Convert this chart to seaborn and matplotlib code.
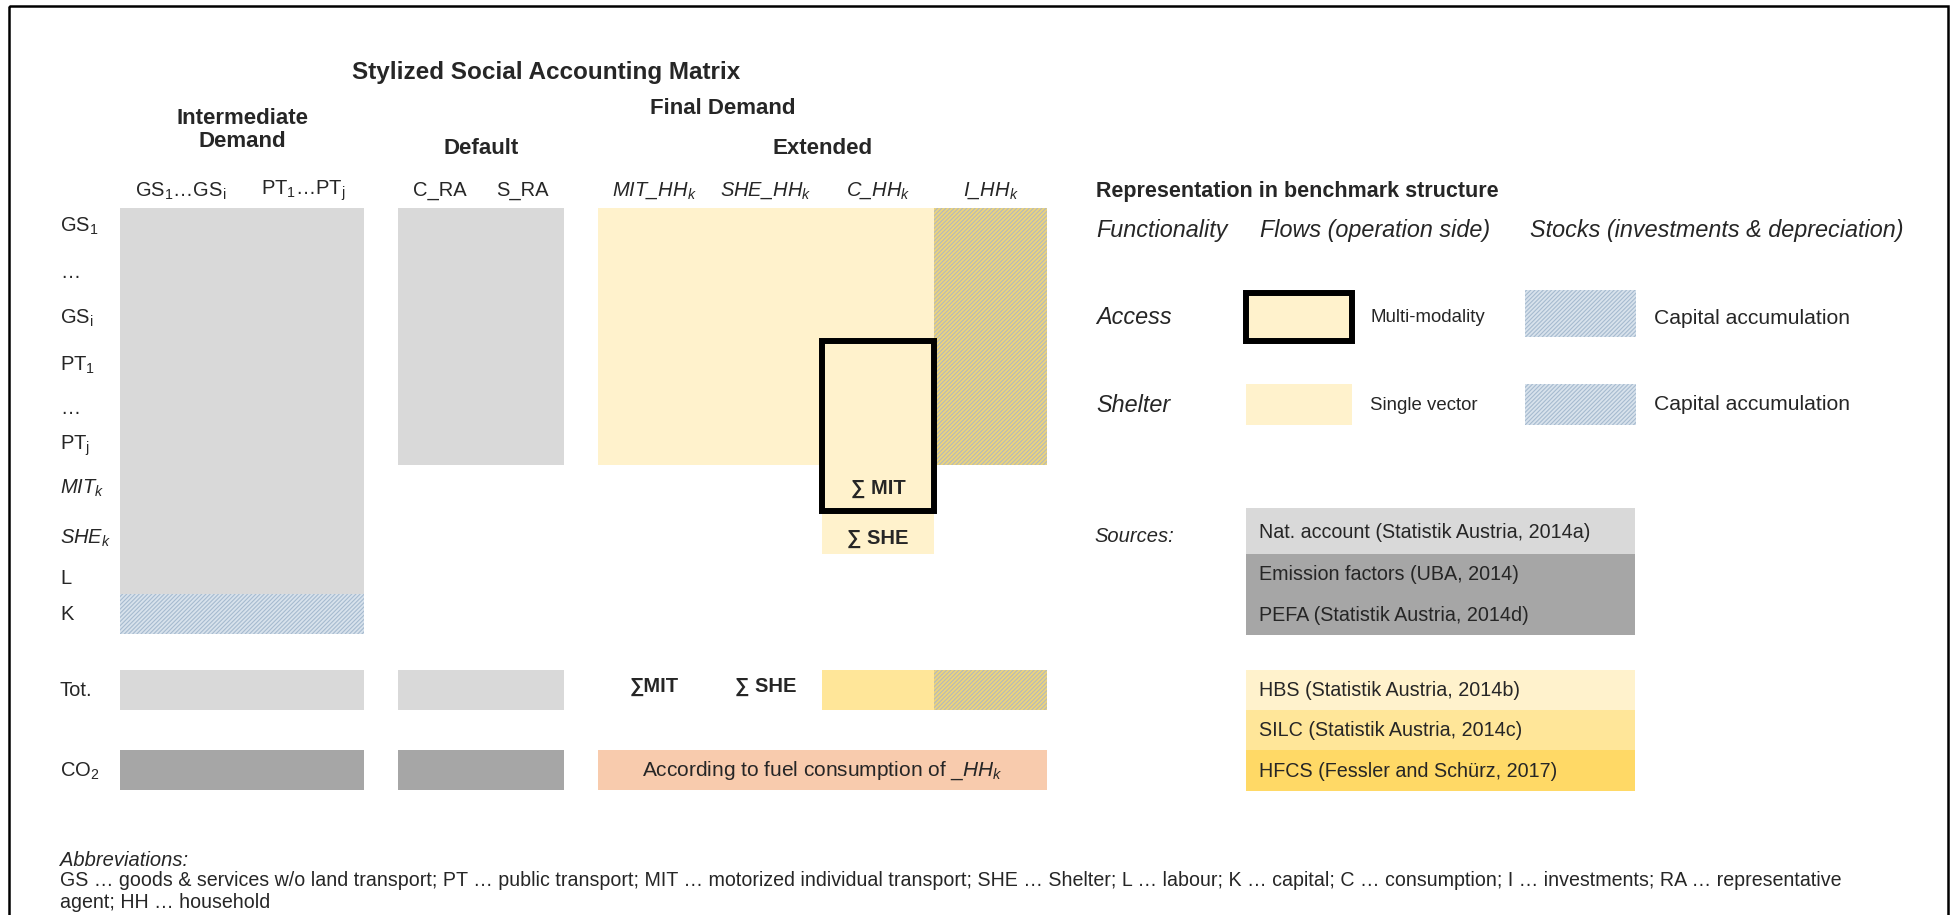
import matplotlib as mpl
import matplotlib.pyplot as plt
from matplotlib.patches import Rectangle
import seaborn as sns

sns.set_theme(style="white")
plt.rcParams["font.family"] = ["Liberation Sans", "DejaVu Sans"]
plt.rcParams["mathtext.fontset"] = "custom"
plt.rcParams["mathtext.rm"] = "Liberation Sans"
plt.rcParams["mathtext.it"] = "Liberation Sans:italic"
plt.rcParams["mathtext.bf"] = "Liberation Sans:bold"
plt.rcParams["hatch.linewidth"] = 0.8

# ---- content -------------------------------------------------------------
title = "Stylized Social Accounting Matrix"
row_labels = ["GS$_1$", "…", "GS$_\\mathrm{i}$", "PT$_1$", "…", "PT$_\\mathrm{j}$",
              "MIT$_k$", "SHE$_k$", "L", "K"]
row_italic = [False, False, False, False, False, False, True, True, False, False]
total_labels = ["Tot.", "CO$_2$"]
col_labels = ["GS$_1$…GS$_\\mathrm{i}$", "PT$_1$…PT$_\\mathrm{j}$", "C_RA", "S_RA",
              "MIT_HH$_k$", "SHE_HH$_k$", "C_HH$_k$", "I_HH$_k$"]
col_italic = [False, False, False, False, True, True, True, True]
group_labels = ["Intermediate\nDemand", "Default", "Extended", "Final Demand"]
group_cols = [(0, 1), (2, 3), (4, 7), (2, 7)]

# matrix cells: (first row, last row, first col, last col, style)
matrix_blocks = [
    (0, 8, 0, 1, "nat"),
    (9, 9, 0, 1, "capital"),
    (0, 5, 2, 3, "nat"),
    (0, 5, 4, 6, "hbs"),
    (0, 5, 7, 7, "invest"),
    (6, 7, 6, 6, "hbs"),
]
mit_box = (3, 6, 6, 6)
cell_texts = [(6, 6, "∑ MIT"), (7, 6, "∑ SHE")]

# totals rows: (row, first col, last col, style)
total_blocks = [
    (0, 0, 1, "nat"), (0, 2, 3, "nat"), (0, 6, 6, "silc"), (0, 7, 7, "invest"),
    (1, 0, 1, "pefa"), (1, 2, 3, "pefa"), (1, 4, 7, "fuel"),
]
total_texts = [(0, 4, "∑MIT"), (0, 5, "∑ SHE")]
co2_note = "According to fuel consumption of $\\_HH_k$"

legend_title = "Representation in benchmark structure"
legend_heads = ["Functionality", "Flows (operation side)", "Stocks (investments & depreciation)"]
functionality = ["Access", "Shelter"]
flows = ["Multi-modality", "Single vector"]
stocks = ["Capital accumulation", "Capital accumulation"]

sources_head = "Sources:"
source_labels = ["Nat. account (Statistik Austria, 2014a)", "Emission factors (UBA, 2014)",
                 "PEFA (Statistik Austria, 2014d)", "HBS (Statistik Austria, 2014b)",
                 "SILC (Statistik Austria, 2014c)", "HFCS (Fessler and Schürz, 2017)"]
source_styles = ["nat", "pefa", "pefa", "hbs", "silc", "hfcs"]

abbrev_head = "Abbreviations:"
abbrev_lines = [
    "GS … goods & services w/o land transport; PT … public transport; MIT … motorized individual "
    "transport; SHE … Shelter; L … labour; K … capital; C … consumption; I … investments; RA … representative",
    "agent; HH … household",
]

styles = {
    "nat": dict(facecolor="#d9d9d9"),
    "pefa": dict(facecolor="#a6a6a6"),
    "hbs": dict(facecolor="#fff2cc"),
    "silc": dict(facecolor="#ffe699"),
    "hfcs": dict(facecolor="#ffd966"),
    "fuel": dict(facecolor="#f8cbad"),
    "capital": dict(facecolor="#d8e2ec", edgecolor="#a6bbcf", hatch="////////"),
    "invest": dict(facecolor="#ecd47c", edgecolor="#b2b9be", hatch="////////"),
}

# ---- layout (pixel grid) -------------------------------------------------
row_edges = [208, 251, 294, 341, 384, 425, 465, 514, 554, 594, 634]
row_label_y = [226, 272, 318, 365, 408, 446, 488, 538, 579, 614]
total_edges = [(670, 710), (750, 790)]
col_edges = [(120, 242), (242, 364), (398, 481), (481, 564),
             (598, 710), (710, 822), (822, 934), (934, 1047)]
source_edges = [(508, 554), (554, 594), (594, 635), (670, 710), (710, 750), (750, 791)]
group_y = [130, 149, 149, 109]

FS = 14.5
BOLD = ["Liberation Sans", "DejaVu Sans"]
fig = plt.figure(figsize=(19.54, 9.15), dpi=100)
ax = fig.add_axes([0, 0, 1, 1])
ax.set_xlim(0, 1954)
ax.set_ylim(915, 0)
ax.axis("off")


def block(x0, x1, y0, y1, style, **kw):
    st = dict(styles[style])
    st.setdefault("edgecolor", "none")
    ax.add_patch(Rectangle((x0, y0), x1 - x0, y1 - y0, linewidth=0, **st, **kw))


# titles
ax.text(546, 72, title, ha="center", va="center", fontsize=17.5, fontweight="bold", family=BOLD)
for lab, (c0, c1), y in zip(group_labels, group_cols, group_y):
    xc = (col_edges[c0][0] + col_edges[c1][1]) / 2
    ax.text(xc, y, lab, ha="center", va="center", fontsize=16, fontweight="bold",
            linespacing=1.1, family=BOLD)
for lab, it, (x0, x1) in zip(col_labels, col_italic, col_edges):
    ax.text((x0 + x1) / 2, 191, lab, ha="center", va="center", fontsize=FS,
            fontstyle="italic" if it else "normal")

# row labels
for y, lab, it in zip(row_label_y, row_labels, row_italic):
    ax.text(60, y, lab, ha="left", va="center", fontsize=FS,
            fontstyle="italic" if it else "normal")
for (y0, y1), lab in zip(total_edges, total_labels):
    ax.text(60, (y0 + y1) / 2 + 1, lab, ha="left", va="center", fontsize=FS)

# matrix blocks
for r0, r1, c0, c1, st in matrix_blocks:
    block(col_edges[c0][0], col_edges[c1][1], row_edges[r0], row_edges[r1 + 1], st)
r0, r1, c0, c1 = mit_box
ax.add_patch(Rectangle((col_edges[c0][0], row_edges[r0]), col_edges[c1][1] - col_edges[c0][0],
                       row_edges[r1 + 1] - row_edges[r0] - 3, fill=False,
                       edgecolor="black", linewidth=4.3, zorder=5))
for r, c, t in cell_texts:
    ax.text((col_edges[c][0] + col_edges[c][1]) / 2, row_label_y[r], t,
            ha="center", va="center", fontsize=FS, fontweight="bold", family=BOLD, zorder=6)

# totals
for r, c0, c1, st in total_blocks:
    block(col_edges[c0][0], col_edges[c1][1], total_edges[r][0], total_edges[r][1], st)
for r, c, t in total_texts:
    ax.text((col_edges[c][0] + col_edges[c][1]) / 2, sum(total_edges[r]) / 2 - 4, t,
            ha="center", va="center", fontsize=FS, fontweight="bold", family=BOLD)
ax.text((col_edges[4][0] + col_edges[7][1]) / 2, sum(total_edges[1]) / 2 + 1, co2_note,
        ha="center", va="center", fontsize=15)

# legend
ax.text(1096, 191, legend_title, ha="left", va="center", fontsize=15.5, fontweight="bold",
        family=BOLD)
for x, t in zip([1096, 1260, 1530], legend_heads):
    ax.text(x, 230, t, ha="left", va="center", fontsize=16.8, fontstyle="italic")
for i, y in enumerate([318, 405]):
    ax.text(1096, y, functionality[i], ha="left", va="center", fontsize=16.8, fontstyle="italic")
    ax.text(1370, y, flows[i], ha="left", va="center", fontsize=13.4)
    ax.text(1654, y, stocks[i], ha="left", va="center", fontsize=15.2)
block(1525, 1636, 290, 337, "capital")
block(1525, 1636, 384, 425, "capital")
block(1246, 1352, 293, 341, "hbs")
ax.add_patch(Rectangle((1246, 293), 106, 48, fill=False, edgecolor="black", linewidth=4.3))
block(1246, 1352, 384, 425, "hbs")

# sources
ax.text(1094, 536, sources_head, ha="left", va="center", fontsize=FS, fontstyle="italic")
for lab, st, (y0, y1) in zip(source_labels, source_styles, source_edges):
    block(1246, 1635, y0, y1, st)
    ax.text(1259, (y0 + y1) / 2 + 1, lab, ha="left", va="center", fontsize=14.2)

# abbreviations
ax.text(60, 860, abbrev_head, ha="left", va="center", fontsize=14.5, fontstyle="italic")
for y, line in zip([881, 902], abbrev_lines):
    ax.text(60, y, line, ha="left", va="center", fontsize=14.1)

# outer frame
ax.add_patch(Rectangle((9, 6), 1939, 930, fill=False, edgecolor="black", linewidth=1.8,
                       clip_on=False))

fig.savefig("out.png", dpi=100)
